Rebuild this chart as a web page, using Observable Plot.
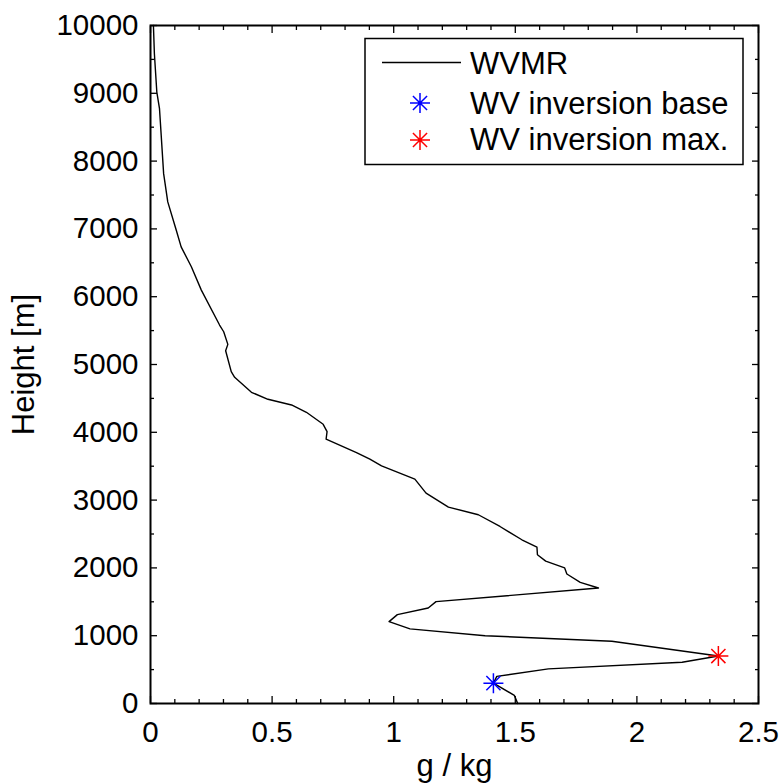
<!DOCTYPE html>
<html>
<head>
<meta charset="utf-8">
<script src="https://cdn.jsdelivr.net/npm/d3@7"></script>
<script src="https://cdn.jsdelivr.net/npm/@observablehq/plot@0.6"></script>
<style>
  html, body { margin: 0; padding: 0; background: #fff; }
  svg { display: block; }
</style>
</head>
<body>
<div id="chart"></div>
<script>
// Water vapour mixing ratio profile (g/kg) vs height (m)
const heights = [0, 120, 300, 400, 510, 608, 700, 918, 1000, 1100, 1208, 1311, 1409, 1502, 1704, 1786, 1910, 2000, 2100, 2194, 2307, 2415, 2611, 2784, 2897, 3103, 3309, 3505, 3603, 3701, 3898, 4010, 4118, 4295, 4403, 4487, 4590, 4811, 4894, 5203, 5297, 5483, 5582, 6097, 6441, 6735, 6981, 7398, 7815, 8380, 8773, 9018, 9583, 10000];
const wvmr = [1.51, 1.496, 1.41, 1.424, 1.636, 2.186, 2.335, 1.897, 1.376, 1.067, 0.981, 1.015, 1.142, 1.174, 1.842, 1.767, 1.712, 1.703, 1.625, 1.591, 1.589, 1.527, 1.437, 1.348, 1.225, 1.133, 1.087, 0.950, 0.902, 0.847, 0.722, 0.726, 0.710, 0.641, 0.580, 0.483, 0.415, 0.346, 0.332, 0.309, 0.318, 0.301, 0.284, 0.209, 0.168, 0.126, 0.106, 0.071, 0.054, 0.044, 0.037, 0.026, 0.016, 0.012];

const baseX = [1.41], baseY = [300];
const maxX = [2.335], maxY = [700];

const xMajor = [0, 0.5, 1, 1.5, 2, 2.5];
const xMinor = [0.1, 0.2, 0.3, 0.4, 0.6, 0.7, 0.8, 0.9, 1.1, 1.2, 1.3, 1.4, 1.6, 1.7, 1.8, 1.9, 2.1, 2.2, 2.3, 2.4];
const yMajor = [0, 1000, 2000, 3000, 4000, 5000, 6000, 7000, 8000, 9000, 10000];
const yMinor = [500, 1500, 2500, 3500, 4500, 5500, 6500, 7500, 8500, 9500];

const legendLabels = ["WVMR", "WV inversion base", "WV inversion max."];

const profile = heights.map((h, i) => ({h, v: wvmr[i]}));
const base = baseX.map((v, i) => ({v, h: baseY[i]}));
const peak = maxX.map((v, i) => ({v, h: maxY[i]}));

// 8-armed asterisk like MATLAB '*'
const star8 = {
  draw(ctx, size) {
    const r = Math.sqrt(size / Math.PI);
    for (let k = 0; k < 4; k++) {
      const a = k * Math.PI / 4;
      const c = Math.cos(a) * r, s = Math.sin(a) * r;
      ctx.moveTo(-c, -s);
      ctx.lineTo(c, s);
    }
  }
};

const FONT = "'Liberation Sans', Arial, Helvetica, sans-serif";
const tk = {text: null, label: null, stroke: "black", strokeWidth: 1.3};

const chart = Plot.plot({
  width: 780,
  height: 783,
  marginLeft: 150,
  marginRight: 22,
  marginTop: 25,
  marginBottom: 80,
  style: {fontFamily: FONT, fontSize: "29px", color: "black", background: "white", overflow: "visible"},
  x: {domain: [0, 2.5], axis: null},
  y: {domain: [0, 10000], axis: null},
  marks: [
    // inward ticks on all four sides
    Plot.axisX({anchor: "bottom", ticks: xMajor, tickSize: -7, ...tk}),
    Plot.axisX({anchor: "bottom", ticks: xMinor, tickSize: -4, ...tk}),
    Plot.axisX({anchor: "top", ticks: xMajor, tickSize: -7, ...tk}),
    Plot.axisX({anchor: "top", ticks: xMinor, tickSize: -4, ...tk}),
    Plot.axisY({anchor: "left", ticks: yMajor, tickSize: -7, ...tk}),
    Plot.axisY({anchor: "left", ticks: yMinor, tickSize: -4, ...tk}),
    Plot.axisY({anchor: "right", ticks: yMajor, tickSize: -7, ...tk}),
    Plot.axisY({anchor: "right", ticks: yMinor, tickSize: -4, ...tk}),
    // tick labels
    Plot.axisX({anchor: "bottom", ticks: xMajor, tickSize: 0, tickPadding: 18, tickFormat: d => String(d), label: null, fill: "black", fontSize: 29.5}),
    Plot.axisY({anchor: "left", ticks: yMajor, tickSize: 0, tickPadding: 12, tickFormat: d => String(d), label: null, fill: "black", fontSize: 29.5}),
    // axis titles
    Plot.text(["g / kg"], {frameAnchor: "bottom", textAnchor: "middle", dy: 63, lineAnchor: "middle", fontSize: 31, fill: "black"}),
    Plot.text(["Height [m]"], {frameAnchor: "left", textAnchor: "middle", rotate: -90, dx: -126, lineAnchor: "middle", fontSize: 31, fill: "black"}),
    // data
    Plot.line(profile, {x: "v", y: "h", stroke: "black", strokeWidth: 1.4, sort: null}),
    Plot.dot(base, {x: "v", y: "h", symbol: star8, r: 10, stroke: "blue", strokeWidth: 1.5, fill: "none"}),
    Plot.dot(peak, {x: "v", y: "h", symbol: star8, r: 10, stroke: "red", strokeWidth: 1.5, fill: "none"}),
    Plot.frame({stroke: "black", strokeWidth: 2})
  ]
});

// Legend box inside the plot area (top-right)
const svg = d3.select(chart);
const lg = svg.append("g").attr("font-family", FONT).attr("font-size", 31).attr("text-anchor", "start");
lg.append("rect").attr("x", 365).attr("y", 38.5).attr("width", 378).attr("height", 126)
  .attr("fill", "white").attr("stroke", "black").attr("stroke-width", 1.5);
lg.append("line").attr("x1", 382).attr("x2", 461).attr("y1", 62.5).attr("y2", 62.5)
  .attr("stroke", "black").attr("stroke-width", 1.4);
const starPath = d3.symbol(star8, Math.PI * 100)();
lg.append("path").attr("d", starPath).attr("transform", "translate(420,103)")
  .attr("stroke", "blue").attr("stroke-width", 1.5).attr("fill", "none");
lg.append("path").attr("d", starPath).attr("transform", "translate(420,140)")
  .attr("stroke", "red").attr("stroke-width", 1.5).attr("fill", "none");
[74, 113.5, 150].forEach((y, i) => {
  lg.append("text").attr("x", 470).attr("y", y).attr("fill", "black")
    .style("text-anchor", "start").text(legendLabels[i]);
});

document.getElementById("chart").appendChild(chart);
</script>
</body>
</html>
